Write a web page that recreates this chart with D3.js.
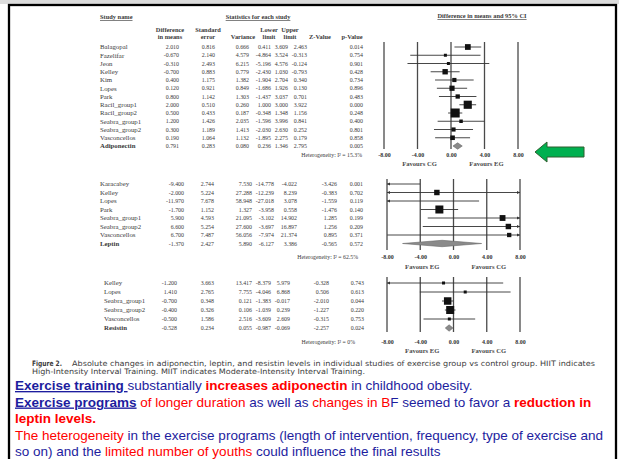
<!DOCTYPE html>
<html>
<head>
<meta charset="utf-8">
<script src="https://cdn.jsdelivr.net/npm/d3@7"></script>
<style>
    body { margin: 0; background: #fff; }
    svg { display: block; }
    .tbl { font-family: "Liberation Serif", "Times New Roman", serif; font-size: 5.9px; fill: #3a3a3a; }
    .tbl.name { font-size: 6.8px; }
    .tbl.bold, .hdr { font-weight: bold; }
    .hdr { font-family: "Liberation Serif", serif; font-size: 6.4px; fill: #3a3a3a; }
    .small { font-family: "Liberation Serif", serif; font-size: 5.8px; fill: #3a3a3a; }
    .fav { font-family: "Liberation Serif", serif; font-size: 6.6px; font-weight: bold; fill: #4a4a4a; }
    .cap { font-family: "DejaVu Sans", "Liberation Sans", sans-serif; font-size: 7.4px; fill: #3c3c3c; }
    .slide { font-family: "Liberation Sans", Arial, sans-serif; font-size: 13.5px; }
</style>
</head>
<body>
<div id="chart"></div>
<script>
// study, diff, se, variance, lower, upper, z, p
const adiponectinRows = [
    ['Balagopal', 2.010, 0.816, 0.666, 0.411, 3.609, 2.463, 0.014],
    ['Fazelifar', -0.670, 2.140, 4.579, -4.864, 3.524, -0.313, 0.754],
    ['Jeon', -0.310, 2.493, 6.215, -5.196, 4.576, -0.124, 0.901],
    ['Kelley', -0.700, 0.883, 0.779, -2.430, 1.030, -0.793, 0.428],
    ['Kim', 0.400, 1.175, 1.382, -1.904, 2.704, 0.340, 0.734],
    ['Lopes', 0.120, 0.921, 0.849, -1.686, 1.926, 0.130, 0.896],
    ['Park', 0.800, 1.142, 1.303, -1.437, 3.037, 0.701, 0.483],
    ['Racil_group1', 2.000, 0.510, 0.260, 1.000, 3.000, 3.922, 0.000],
    ['Racil_group2', 0.500, 0.433, 0.187, -0.348, 1.348, 1.156, 0.248],
    ['Seabra_group1', 1.200, 1.426, 2.035, -1.596, 3.996, 0.841, 0.400],
    ['Seabra_group2', 0.300, 1.189, 1.413, -2.030, 2.630, 0.252, 0.801],
    ['Vasconcellos', 0.190, 1.064, 1.132, -1.895, 2.275, 0.179, 0.858],
];
const adiponectinSummary = ['Adiponectin', 0.791, 0.283, 0.080, 0.236, 1.346, 2.795, 0.005];
const adiponectinI2 = '15.3%';

const leptinRows = [
    ['Karacabey', -9.400, 2.744, 7.530, -14.778, -4.022, -3.426, 0.001],
    ['Kelley', -2.000, 5.224, 27.288, -12.239, 8.239, -0.383, 0.702],
    ['Lopes', -11.970, 7.678, 58.948, -27.018, 3.078, -1.559, 0.119],
    ['Park', -1.700, 1.152, 1.327, -3.958, 0.558, -1.476, 0.140],
    ['Seabra_group1', 5.900, 4.593, 21.095, -3.102, 14.902, 1.285, 0.199],
    ['Seabra_group2', 6.600, 5.254, 27.600, -3.697, 16.897, 1.256, 0.209],
    ['Vasconcellos', 6.700, 7.487, 56.056, -7.974, 21.374, 0.895, 0.371],
];
const leptinSummary = ['Leptin', -1.370, 2.427, 5.890, -6.127, 3.386, -0.565, 0.572];
const leptinI2 = '62.5%';

const resistinRows = [
    ['Kelley', -1.200, 3.663, 13.417, -8.379, 5.979, -0.328, 0.743],
    ['Lopes', 1.410, 2.765, 7.755, -4.046, 6.868, 0.506, 0.613],
    ['Seabra_group1', -0.700, 0.348, 0.121, -1.383, -0.017, -2.010, 0.044],
    ['Seabra_group2', -0.400, 0.326, 0.106, -1.039, 0.239, -1.227, 0.220],
    ['Vasconcellos', -0.500, 1.586, 2.516, -3.609, 2.609, -0.315, 0.753],
];
const resistinSummary = ['Resistin', -0.528, 0.234, 0.055, -0.987, -0.069, -2.257, 0.024];
const resistinI2 = '0%';

const axisTicks = [-8, -4, 0, 4, 8];
const favoursAdiponectin = ['Favours CG', 'Favours EG'];
const favoursOther = ['Favours EG', 'Favours CG'];
const columnHeads = [['Difference', 'in means'], ['Standard', 'error'], ['', 'Variance'],
    ['Lower', 'limit'], ['Upper', 'limit'], ['', 'Z-Value'], ['', 'p-Value']];

const captionLines = [
    'Absolute changes in adiponectin, leptin, and resistin levels in individual studies of exercise group vs control group. HIIT indicates',
    'High-Intensity Interval Training. MIIT indicates Moderate-Intensity Interval Training.',
];

// [text, colour, bold, underline]
const slideLines = [
    [['Exercise training ', 'b', 1, 1], ['substantially ', 'b'], ['increases adiponectin', 'r', 1], [' in childhood obesity.', 'b']],
    [['Exercise programs', 'b', 1, 1], [' of longer duration', 'r'], [' as well as ', 'b'], ['changes in B', 'r'], ['F seemed to favor a ', 'b'], ['reduction in', 'r', 1]],
    [['leptin levels.', 'r', 1]],
    [['The heterogeneity', 'r'], [' in the exercise programs (length of intervention, frequency, type of exercise and', 'b']],
    [['so on) and the ', 'b'], ['limited number of youths', 'r'], [' could influence the final results', 'b']],
];

const width = 619;
const height = 459;
const blue = '#1d1d9e';
const red = '#ff0000';
const fields = ['diff', 'se', 'variance', 'lower', 'upper', 'z', 'p'];

const toRow = r => ({
    name: r[0], diff: r[1], se: r[2], variance: r[3], lower: r[4], upper: r[5], z: r[6], p: r[7],
});

// random effects (DerSimonian-Laird) weights, used for the box sizes
function reWeights(rows) {
    const w = rows.map(r => 1 / r.variance);
    const sw = d3.sum(w);
    const m = d3.sum(rows, (r, i) => w[i] * r.diff) / sw;
    const q = d3.sum(rows, (r, i) => w[i] * (r.diff - m) ** 2);
    const c = sw - d3.sum(w, v => v * v) / sw;
    const tau2 = Math.max(0, (q - (rows.length - 1)) / c);
    return rows.map(r => 1 / (r.variance + tau2));
}

const panels = [
    {
        rows: adiponectinRows, summary: adiponectinSummary, i2: adiponectinI2, favours: favoursAdiponectin,
        top: 47, step: 8.25, nameX: 100, colX: [179, 215, 249, 271, 288, 307, 363],
        range: [384, 518], lineTop: 42, lineBottom: 149, tickY: 155, favY: 164, hetX: 362, maxBox: 9,
    },
    {
        rows: leptinRows, summary: leptinSummary, i2: leptinI2, favours: favoursOther,
        top: 184, step: 8.5, nameX: 100, colX: [184, 214, 252, 274, 297, 337, 363],
        range: [387, 520], lineTop: 179, lineBottom: 250, tickY: 257, favY: 267, hetX: 358, maxBox: 8,
    },
    {
        rows: resistinRows, summary: resistinSummary, i2: resistinI2, favours: favoursOther,
        top: 283, step: 9, nameX: 104, colX: [177, 214, 252, 271, 290, 329, 364],
        range: [387, 520], lineTop: 277, lineBottom: 332, tickY: 342, favY: 351, hetX: 355, maxBox: 8,
    },
];

const $svg = d3.select('#chart').append('svg')
    .attr('width', width)
    .attr('height', height);

$svg.append('rect').attr('width', width).attr('height', height).attr('fill', '#fff');
$svg.append('rect').attr('width', width).attr('height', 4).attr('fill', '#dcdcdc');
$svg.append('rect')
    .attr('x', 9).attr('y', 5).attr('width', 607).attr('height', 470)
    .attr('fill', 'none').attr('stroke', '#000').attr('stroke-width', 2.3);

// table headers
const $head = $svg.append('g');
$head.append('text').attr('class', 'hdr').attr('x', 100).attr('y', 17).attr('dy', '0.35em')
    .attr('text-decoration', 'underline').text('Study name');
$head.append('text').attr('class', 'hdr').attr('x', 258).attr('y', 17).attr('dy', '0.35em')
    .attr('text-anchor', 'middle').attr('text-decoration', 'underline').text('Statistics for each study');
$head.append('text').attr('class', 'hdr').attr('x', 482).attr('y', 16).attr('dy', '0.35em')
    .attr('text-anchor', 'middle').attr('text-decoration', 'underline').text('Difference in means and 95% CI');
const headX = [170, 208, 243, 269, 290, 320, 352];
columnHeads.forEach((h, k) => {
    h.forEach((line, j) => {
        $head.append('text').attr('class', 'hdr')
            .attr('x', headX[k]).attr('y', 30 + j * 7).attr('dy', '0.35em')
            .attr('text-anchor', 'middle').text(line);
    });
});

function drawPanel(p) {
    const rows = p.rows.map(toRow);
    const all = rows.concat([toRow(p.summary)]);
    const weights = reWeights(rows);

    const scaleX = d3.scaleLinear().domain(d3.extent(axisTicks)).range(p.range);
    const scaleY = d3.scaleLinear().domain([0, 1]).range([p.top, p.top + p.step]);
    const scaleBox = d3.scaleSqrt().domain([0, d3.max(weights)]).range([0, p.maxBox]);
    const boxSize = d => Math.max(3, scaleBox(weights[rows.indexOf(d)]));
    const [xMin, xMax] = scaleX.domain();

    const $g = $svg.append('g');

    // numbers
    const $rows = $g.selectAll('g.row').data(all).join('g')
        .attr('class', 'row')
        .attr('transform', (d, i) => `translate(0, ${scaleY(i)})`);
    $rows.append('text')
        .attr('class', (d, i) => (i === rows.length ? 'tbl name bold' : 'tbl name'))
        .attr('x', p.nameX).attr('dy', '0.35em')
        .text(d => d.name);
    fields.forEach((f, k) => {
        $rows.append('text').attr('class', 'tbl')
            .attr('x', p.colX[k]).attr('dy', '0.35em').attr('text-anchor', 'end')
            .text(d => d[f].toFixed(3));
    });

    $g.append('text').attr('class', 'small')
        .attr('x', p.hetX).attr('y', p.tickY).attr('dy', '0.35em').attr('text-anchor', 'end')
        .text(`Heterogeneity: I\u00b2 = ${p.i2}`);

    // vertical reference lines
    $g.selectAll('line.ref').data(axisTicks).join('line')
        .attr('class', 'ref')
        .attr('x1', d => scaleX(d)).attr('x2', d => scaleX(d))
        .attr('y1', p.lineTop).attr('y2', p.lineBottom)
        .attr('stroke', '#4a4a4a').attr('stroke-width', 1.3);

    const $axis = $g.append('g')
        .attr('transform', `translate(0, ${p.tickY})`)
        .call(d3.axisBottom(scaleX).tickValues(axisTicks).tickSize(0).tickPadding(0)
            .tickFormat(d => d.toFixed(2)));
    $axis.select('.domain').remove();
    $axis.selectAll('text')
        .attr('dy', '0.35em')
        .attr('font-family', '"Liberation Serif", serif')
        .attr('font-size', 6)
        .attr('font-weight', 'bold')
        .attr('fill', '#333');

    $g.selectAll('text.favours').data(p.favours).join('text')
        .attr('class', 'fav')
        .attr('x', (d, i) => scaleX(i ? 4 : -4) + 2)
        .attr('y', p.favY).attr('dy', '0.35em').attr('text-anchor', 'middle')
        .text(d => d);

    // confidence intervals
    const $ci = $g.selectAll('g.ci').data(rows).join('g')
        .attr('class', 'ci')
        .attr('transform', (d, i) => `translate(0, ${scaleY(i)})`);
    $ci.append('line')
        .attr('x1', d => scaleX(Math.max(d.lower, xMin)))
        .attr('x2', d => scaleX(Math.min(d.upper, xMax)))
        .attr('stroke', '#333').attr('stroke-width', 0.9);
    $ci.filter(d => d.lower < xMin).append('path')
        .attr('d', () => { const x0 = scaleX(xMin); return `M${x0},0L${x0 + 3},-1.6L${x0 + 3},1.6Z`; })
        .attr('fill', '#333');
    $ci.filter(d => d.upper > xMax).append('path')
        .attr('d', () => { const x0 = scaleX(xMax); return `M${x0},0L${x0 - 3},-1.6L${x0 - 3},1.6Z`; })
        .attr('fill', '#333');
    $ci.filter(d => d.diff >= xMin && d.diff <= xMax).append('rect')
        .attr('x', d => scaleX(d.diff) - boxSize(d) / 2)
        .attr('y', d => -boxSize(d) / 2)
        .attr('width', boxSize)
        .attr('height', boxSize)
        .attr('fill', '#111');

    // summary diamond
    const s = all[rows.length];
    const sy = scaleY(rows.length);
    $g.append('path')
        .attr('d', `M${scaleX(s.lower)},${sy}L${scaleX(s.diff)},${sy - 3.2}L${scaleX(s.upper)},${sy}L${scaleX(s.diff)},${sy + 3.2}Z`)
        .attr('fill', '#8a8a8a').attr('stroke', '#6a6a6a').attr('stroke-width', 0.6);
}

panels.forEach(drawPanel);

// green arrow pointing at the adiponectin panel
$svg.append('path')
    .attr('d', 'M535,152L547,142L547,147L584,147L584,157L547,157L547,162Z')
    .attr('fill', '#00b050').attr('stroke', '#2f5f2f').attr('stroke-width', 1);

// figure caption
const $cap = $svg.append('g');
$cap.append('text').attr('class', 'cap').attr('x', 32).attr('y', 366)
    .attr('font-weight', 'bold').attr('font-size', 6.3)
    .attr('textLength', 30).attr('lengthAdjust', 'spacingAndGlyphs').text('Figure 2.');
$cap.append('text').attr('class', 'cap').attr('x', 72).attr('y', 366)
    .attr('textLength', 523).attr('lengthAdjust', 'spacingAndGlyphs').text(captionLines[0]);
$cap.append('text').attr('class', 'cap').attr('x', 32).attr('y', 373.5)
    .attr('textLength', 333).attr('lengthAdjust', 'spacingAndGlyphs').text(captionLines[1]);

// slide text
const baselines = [390, 406.5, 423, 440, 456];
slideLines.forEach((line, i) => {
    const $t = $svg.append('text').attr('class', 'slide').attr('x', 15).attr('y', baselines[i])
        .attr('xml:space', 'preserve');
    line.forEach(seg => {
        $t.append('tspan')
            .attr('fill', seg[1] === 'r' ? red : blue)
            .attr('font-weight', seg[2] ? 'bold' : null)
            .attr('text-decoration', seg[3] ? 'underline' : null)
            .text(seg[0]);
    });
});
</script>
</body>
</html>
